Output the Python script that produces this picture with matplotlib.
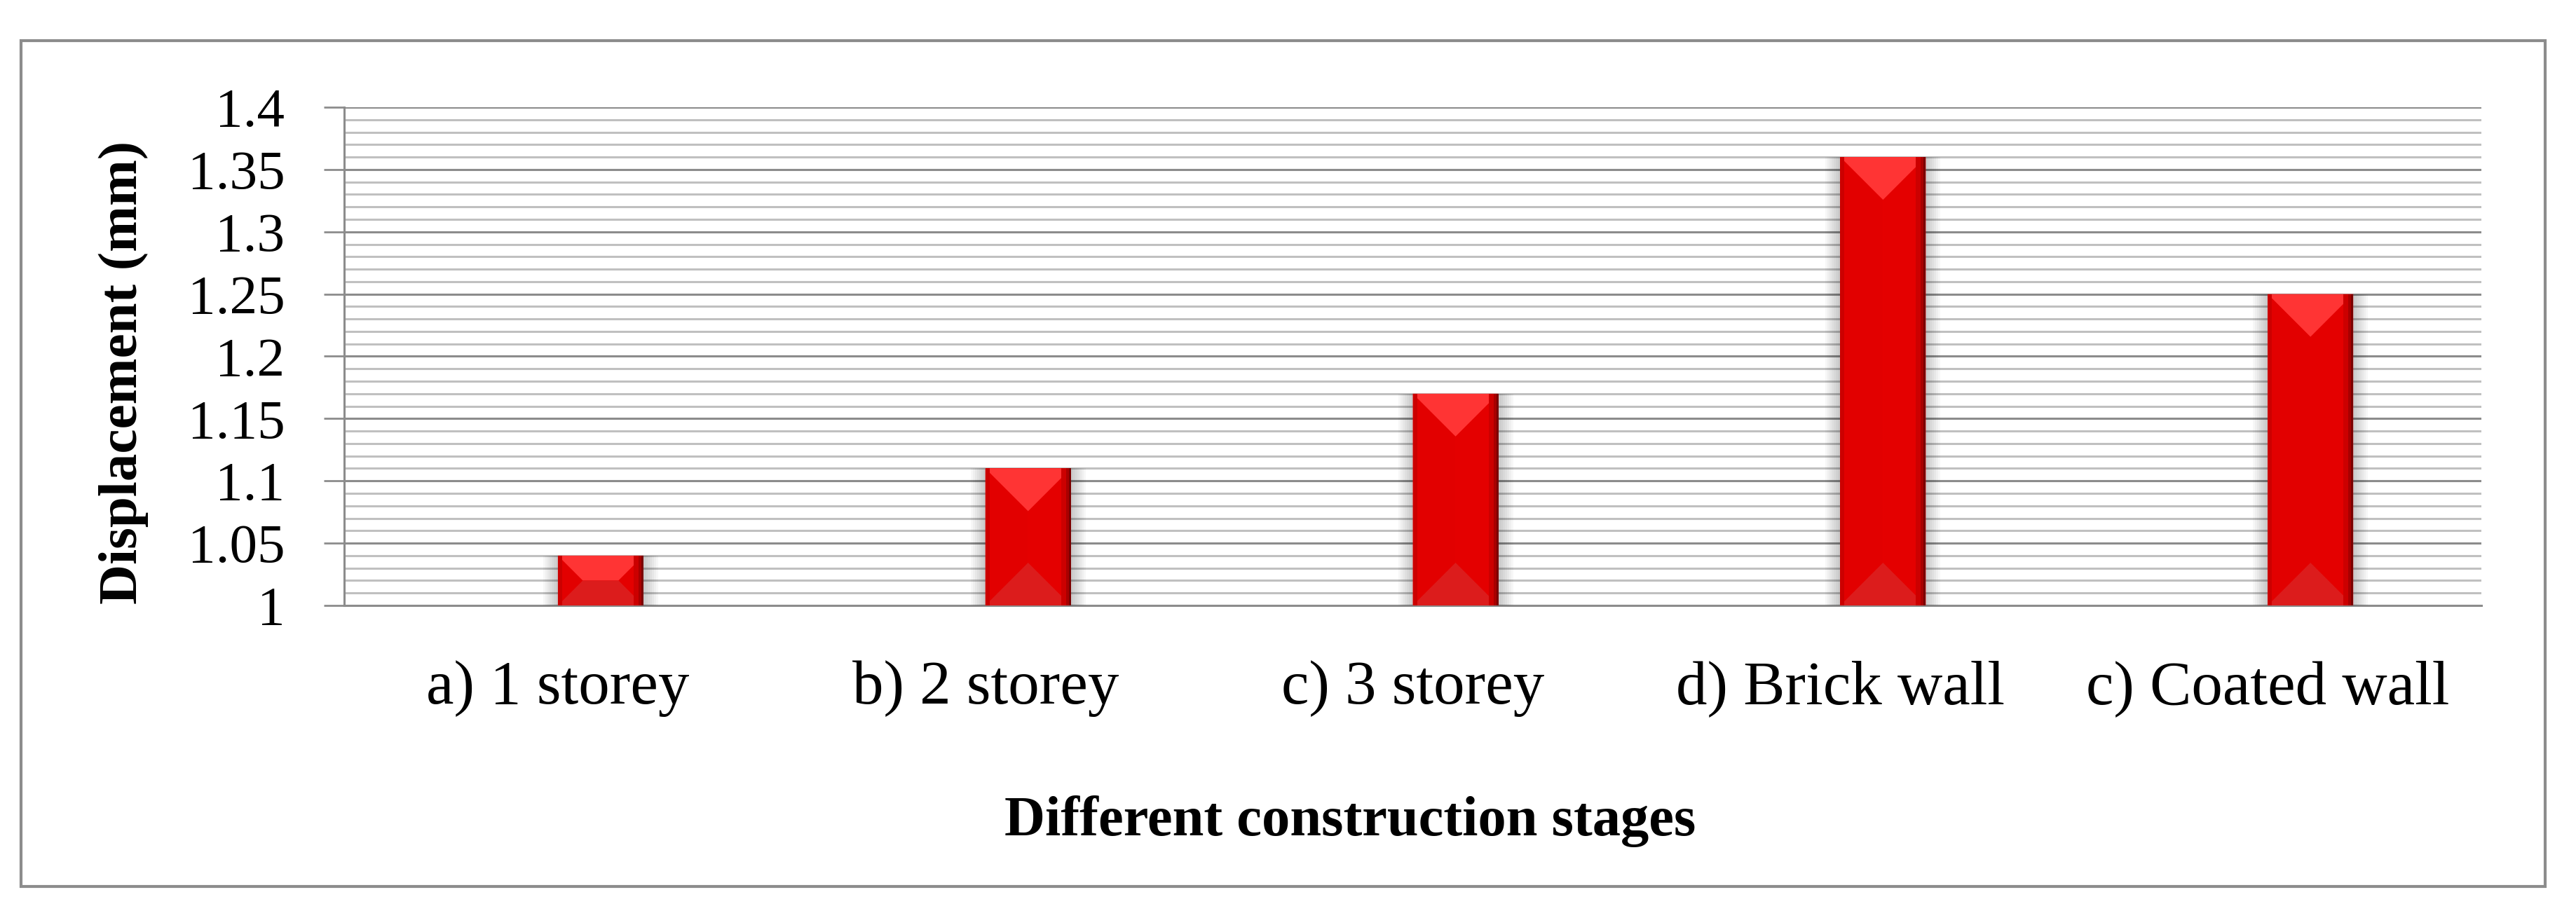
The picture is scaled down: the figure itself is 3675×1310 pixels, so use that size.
import numpy as np
import matplotlib
matplotlib.use("Agg")
from matplotlib import pyplot as plt
from matplotlib.patches import Polygon, Rectangle
from matplotlib.ticker import MultipleLocator, FuncFormatter

# chart data
stages = ["a) 1 storey", "b) 2 storey", "c) 3 storey", "d) Brick wall", "c) Coated wall"]
displacement = [1.04, 1.11, 1.17, 1.36, 1.25]
y_min, y_max = 1.0, 1.4

plt.rcParams['font.family'] = ['Liberation Serif', 'DejaVu Serif']

fig = plt.figure(figsize=(36.75, 13.1), dpi=100)
ax = fig.add_axes([0.1336, 0.3405, 0.8297, 0.5427])

x = np.arange(len(stages))
vals = np.array(displacement)

bars = ax.bar(x + 0.1, vals - y_min, bottom=y_min, width=0.2, color="#ec0000",
              edgecolor="none", zorder=4)

ax.set_xlim(-0.5, len(stages) - 0.5)
ax.set_ylim(y_min, y_max)
ax.yaxis.set_major_locator(MultipleLocator(0.05))
ax.yaxis.set_minor_locator(MultipleLocator(0.01))
ax.yaxis.set_major_formatter(FuncFormatter(lambda v, p: "{:g}".format(round(v, 2))))
ax.set_xticks(x)
ax.set_xticklabels(stages, fontsize=64)
ax.tick_params(axis="x", length=0, pad=56)
ax.tick_params(axis="y", which="major", length=21, width=2, color="#8c8c8c",
               labelsize=57, pad=40)
ax.tick_params(axis="y", which="minor", length=0)

ax.yaxis.grid(True, which="major", color="#8c8c8c", lw=2.2, zorder=1)
ax.yaxis.grid(True, which="minor", color="#c0c0c0", lw=2.2, zorder=1)
ax.set_axisbelow(True)
for side in ["top", "right"]:
    ax.spines[side].set_visible(False)
for side in ["left", "bottom"]:
    ax.spines[side].set_color("#8c8c8c")
    ax.spines[side].set_linewidth(2.2)

fig.text(0.048, 0.594, "Displacement (mm)", rotation=90, fontsize=57,
         fontweight="bold", ha="center", va="center")
fig.text(0.524, 0.105, "Different construction stages", fontsize=58,
         fontweight="bold", ha="center", va="center")

# outer chart frame
fig.patches.append(Rectangle((0.0082, 0.0344), 0.9798, 0.9213, transform=fig.transFigure,
                             fill=False, edgecolor="#8c8c8c", lw=3))

# bevel shading on each bar, worked out in pixels then mapped back to data
to_data = ax.transData.inverted()
for b in bars:
    (x0, y0), (x1, y1) = ax.transData.transform([(b.get_x(), b.get_y()),
                                                 (b.get_x() + b.get_width(),
                                                  b.get_y() + b.get_height())])
    d = min((x1 - x0) / 2, (y1 - y0) / 2)
    # soft shadow
    for k in range(1, 8):
        s = 3 * k
        pts = [(x0 - s, y0 - s), (x1 + s, y0 - s), (x1 + s, y1), (x0 - s, y1)]
        ax.add_patch(Polygon(to_data.transform(pts), closed=True, color="black",
                             alpha=0.03, lw=0, zorder=3))
    shapes = [
        ([(x0, y0), (x0 + d, y0 + d), (x0 + d, y1 - d), (x0, y1)], "#e20000"),
        ([(x1, y0), (x1 - d, y0 + d), (x1 - d, y1 - d), (x1, y1)], "#e40000"),
        ([(x0, y1), (x1, y1), (x1 - d, y1 - d), (x0 + d, y1 - d)], "#ff3434"),
        ([(x0, y0), (x1, y0), (x1 - d, y0 + d), (x0 + d, y0 + d)], "#dc1c1c"),
    ]
    for pts, col in shapes:
        ax.add_patch(Polygon(to_data.transform(pts), closed=True, color=col,
                             lw=0, zorder=5))
    # darker rims
    for w, col in [(14, "#cc0000"), (7, "#a80000"), (3, "#7a0000")]:
        ax.add_patch(Polygon(to_data.transform([(x1 - w, y0), (x1, y0), (x1, y1), (x1 - w, y1)]),
                             closed=True, color=col, lw=0, zorder=6))
    ax.add_patch(Polygon(to_data.transform([(x0, y0), (x0 + 6, y0), (x0 + 6, y1), (x0, y1)]),
                         closed=True, color="#cc0000", lw=0, zorder=6))

fig.savefig("out.png", dpi=100)
